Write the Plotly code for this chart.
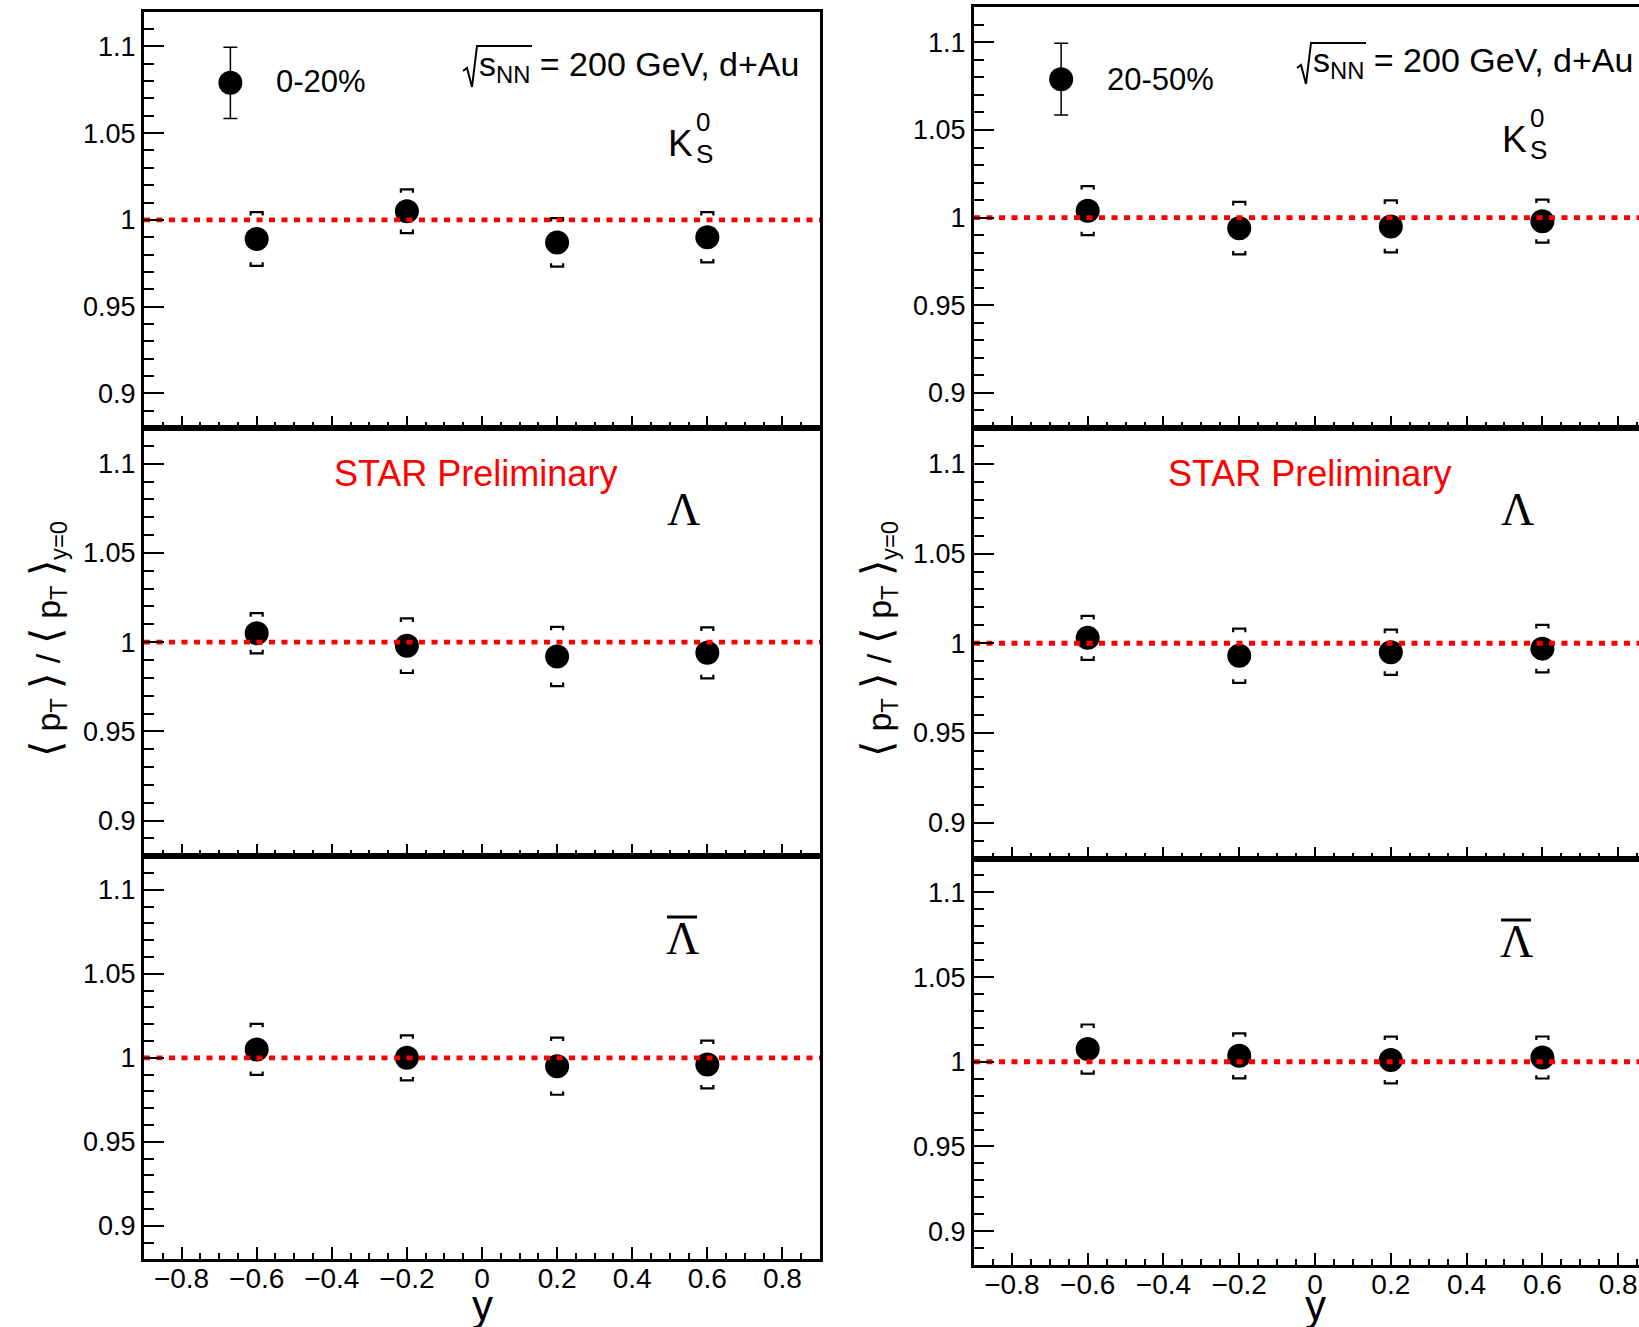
import plotly.graph_objects as go

W, H = 1639, 1327

# ---------------- data ----------------
Y_POS = [-0.6, -0.2, 0.2, 0.6]

K0S_0_20 = [0.989, 1.005, 0.987, 0.990]
K0S_0_20_SYS = [0.0155, 0.0126, 0.0140, 0.0145]
LAM_0_20 = [1.005, 0.998, 0.992, 0.994]
LAM_0_20_SYS = [0.0113, 0.0153, 0.0166, 0.0143]
ALAM_0_20 = [1.005, 1.000, 0.995, 0.996]
ALAM_0_20_SYS = [0.0152, 0.0134, 0.0170, 0.0142]

K0S_20_50 = [1.004, 0.994, 0.995, 0.998]
K0S_20_50_SYS = [0.0140, 0.0150, 0.0148, 0.0123]
LAM_20_50 = [1.003, 0.993, 0.995, 0.997]
LAM_20_50_SYS = [0.0123, 0.0151, 0.0126, 0.0132]
ALAM_20_50 = [1.0075, 1.0035, 1.001, 1.0025]
ALAM_20_50_SYS = [0.0145, 0.0133, 0.0138, 0.0124]

REF_VALUE = 1.0
X_TICKS = [-0.8, -0.6, -0.4, -0.2, 0, 0.2, 0.4, 0.6, 0.8]
X_TICK_TEXT = ["\u22120.8", "\u22120.6", "\u22120.4", "\u22120.2", "0", "0.2", "0.4", "0.6", "0.8"]
Y_TICKS = [0.9, 0.95, 1.0, 1.05, 1.1]
Y_TICK_TEXT = ["0.9", "0.95", "1", "1.05", "1.1"]
Y_RANGE = [0.88, 1.12]

CENTRALITY = ["0-20%", "20-50%"]
PANEL_DATA = [
    [(K0S_0_20, K0S_0_20_SYS), (LAM_0_20, LAM_0_20_SYS), (ALAM_0_20, ALAM_0_20_SYS)],
    [(K0S_20_50, K0S_20_50_SYS), (LAM_20_50, LAM_20_50_SYS), (ALAM_20_50, ALAM_20_50_SYS)],
]

# ---------------- layout geometry (pixels) ----------------
COLS = [
    dict(x0=144, x1=820, xrange=[-0.9, 0.9], mirror_y=True,
         rows=[(11.7, 428), (428, 856.3), (856.3, 1259.3)], dx=0),
    dict(x0=974, x1=1639, xrange=[-0.9, 0.855], mirror_y=False,
         rows=[(7.3, 428), (428, 858.5), (858.5, 1265)], dx=834),
]

FONT = "Liberation Sans, Arial, Helvetica, sans-serif"
SERIF = "Liberation Serif, Times New Roman, serif"


def px(xp):
    return xp / W


def py(yp):
    return 1 - yp / H


fig = go.Figure()
layout = dict(width=W, height=H, margin=dict(l=0, r=0, t=0, b=0),
              paper_bgcolor="white", plot_bgcolor="white", showlegend=False)
shapes = []
annotations = []

BR_W = 0.016   # bracket half width (data units)
BR_LEG = 0.002  # bracket leg length (data units)

idx = 0
for c, col in enumerate(COLS):
    for r, (top, bot) in enumerate(col["rows"]):
        idx += 1
        xa = "x" if idx == 1 else f"x{idx}"
        ya = "y" if idx == 1 else f"y{idx}"
        vals, sys = PANEL_DATA[c][r]

        # systematic brackets
        bx, by = [], []
        for xv, yv, e in zip(Y_POS, vals, sys):
            bx += [xv - BR_W, xv - BR_W, xv + BR_W, xv + BR_W, None]
            by += [yv + e - BR_LEG, yv + e, yv + e, yv + e - BR_LEG, None]
            bx += [xv - BR_W, xv - BR_W, xv + BR_W, xv + BR_W, None]
            by += [yv - e + BR_LEG, yv - e, yv - e, yv - e + BR_LEG, None]
        fig.add_trace(go.Scatter(x=Y_POS, y=vals, mode="markers",
                                 marker=dict(size=24, color="black", line=dict(width=0)),
                                 xaxis=xa, yaxis=ya))
        fig.add_trace(go.Scatter(x=bx, y=by, mode="lines",
                                 line=dict(color="black", width=2.2),
                                 xaxis=xa, yaxis=ya))
        fig.add_trace(go.Scatter(x=[-0.9, 0.9], y=[REF_VALUE, REF_VALUE], mode="lines",
                                 line=dict(color="#ff0000", width=4.8, dash="6px,6.5px"),
                                 xaxis=xa, yaxis=ya))

        xkey = "xaxis" if idx == 1 else f"xaxis{idx}"
        ykey = "yaxis" if idx == 1 else f"yaxis{idx}"
        layout[xkey] = dict(
            domain=[px(col["x0"]), px(col["x1"])], range=col["xrange"], anchor=ya,
            showline=True, linewidth=3, linecolor="black", mirror=True,
            showgrid=False, zeroline=False,
            ticks="inside", ticklen=12, tickwidth=2, tickcolor="black",
            tickmode="array", tickvals=X_TICKS, ticktext=X_TICK_TEXT,
            showticklabels=(r == 2), ticklabelstandoff=-8,
            tickfont=dict(family=FONT, size=28, color="black"),
            minor=dict(ticks="inside", ticklen=6, tickwidth=2, tickcolor="black",
                       tickmode="linear", tick0=0, dtick=0.05),
        )
        layout[ykey] = dict(
            domain=[py(bot), py(top)], range=Y_RANGE, anchor=xa,
            showline=True, linewidth=3, linecolor="black", mirror=col["mirror_y"],
            showgrid=False, zeroline=False,
            ticks="inside", ticklen=20, tickwidth=2, tickcolor="black",
            tickmode="array", tickvals=Y_TICKS, ticktext=Y_TICK_TEXT,
            tickfont=dict(family=FONT, size=27, color="black"),
            minor=dict(ticks="inside", ticklen=10, tickwidth=2, tickcolor="black",
                       tickmode="linear", tick0=0.9, dtick=0.01),
        )

        dx = col["dx"]
        if r == 0:
            # legend glyph
            shapes.append(dict(type="line", xref=xa, yref=ya, x0=-0.67, x1=-0.67,
                               y0=1.0585, y1=1.0995, line=dict(color="black", width=1.5)))
            for ycap in (1.0585, 1.0995):
                shapes.append(dict(type="line", xref=xa, yref=ya, xsizemode="pixel",
                                   xanchor=-0.67, x0=-7, x1=7, y0=ycap, y1=ycap,
                                   line=dict(color="black", width=1.5)))
            shapes.append(dict(type="circle", xref=xa, yref=ya, xsizemode="pixel",
                               ysizemode="pixel", xanchor=-0.67, yanchor=1.079,
                               x0=-12, x1=12, y0=-12, y1=12,
                               fillcolor="black", line=dict(width=0)))
            annotations.append(dict(text=CENTRALITY[c], xref="paper", yref="paper",
                                    x=px(274 + (831 if c else 0)),
                                    y=py(82 - 3 * c), xanchor="left", yanchor="middle",
                                    showarrow=False, font=dict(family=FONT, size=31, color="black")))
            # sqrt(s_NN) text with radical
            rad = [(463, 71), (467, 68), (472, 87), (477, 46), (532, 46)]
            oy = -3 if c else 0
            path = "M " + " L ".join(f"{px(x + dx)},{py(y + oy)}" for x, y in rad)
            shapes.append(dict(type="path", xref="paper", yref="paper", path=path,
                               line=dict(color="black", width=2)))
            annotations.append(dict(text="s<sub>NN</sub> = 200 GeV, d+Au", xref="paper", yref="paper",
                                    x=px(477 + dx), y=py(66 + oy), xanchor="left", yanchor="middle",
                                    showarrow=False, font=dict(family=FONT, size=34, color="black")))
            # K0S
            ky = 143 - 4 * c
            annotations.append(dict(text="K", xref="paper", yref="paper",
                                    x=px(680 + dx), y=py(ky), xanchor="center", yanchor="middle",
                                    showarrow=False, font=dict(family=FONT, size=37, color="black")))
            annotations.append(dict(text="0", xref="paper", yref="paper",
                                    x=px(694 + dx), y=py(ky - 21), xanchor="left", yanchor="middle",
                                    showarrow=False, font=dict(family=FONT, size=26, color="black")))
            annotations.append(dict(text="S", xref="paper", yref="paper",
                                    x=px(694 + dx), y=py(ky + 11), xanchor="left", yanchor="middle",
                                    showarrow=False, font=dict(family=FONT, size=26, color="black")))
        elif r == 1:
            annotations.append(dict(text="STAR Preliminary", xref="paper", yref="paper",
                                    x=px(332 + dx), y=py(474), xanchor="left", yanchor="middle",
                                    showarrow=False, font=dict(family=FONT, size=36, color="#ff0000")))
            annotations.append(dict(text="\u039b", xref="paper", yref="paper",
                                    x=px(683 + dx), y=py(510), xanchor="center", yanchor="middle",
                                    showarrow=False, font=dict(family=SERIF, size=46, color="black")))
            br_l = "<span style='font-size:42px'>\u27e8</span>"
            br_r = "<span style='font-size:42px'>\u27e9</span>"
            annotations.append(dict(text=f"{br_l} p<sub>T</sub> {br_r} / {br_l} p<sub>T</sub> {br_r}<sub>y=0</sub>",
                                    xref="paper", yref="paper", textangle=-90,
                                    x=px(47 + (831 if c else 0)), y=py(639), xanchor="center", yanchor="middle",
                                    showarrow=False, font=dict(family=FONT, size=34, color="black")))
        else:
            by0 = 938 + 3 * c
            annotations.append(dict(text="\u039b", xref="paper", yref="paper",
                                    x=px(682 + dx), y=py(by0), xanchor="center", yanchor="middle",
                                    showarrow=False, font=dict(family=SERIF, size=46, color="black")))
            shapes.append(dict(type="line", xref="paper", yref="paper",
                               x0=px(667 + dx), x1=px(697 + dx), y0=py(by0 - 21), y1=py(by0 - 21),
                               line=dict(color="black", width=3)))
            annotations.append(dict(text="y", xref=xa, yref="paper", x=0, y=py(1305),
                                    xanchor="center", yanchor="middle", showarrow=False,
                                    font=dict(family=FONT, size=42, color="black")))

layout["shapes"] = shapes
layout["annotations"] = annotations
fig.update_layout(**layout)
fig.write_html("out.html")
